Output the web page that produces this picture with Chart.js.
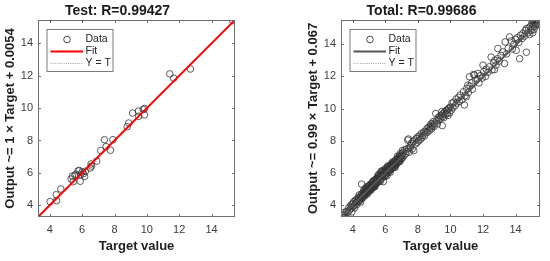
<!DOCTYPE html>
<html><head><meta charset="utf-8">
<script src="https://cdn.jsdelivr.net/npm/chart.js@4/dist/chart.umd.min.js"></script>
<style>
html,body{margin:0;padding:0;background:#fff;}
#wrap{width:550px;height:261px;position:relative;overflow:hidden;}
canvas{position:absolute;top:0;}
</style></head><body>
<div id="wrap">
<canvas id="c1" width="275" height="261" style="left:0;width:275px;height:261px"></canvas>
<canvas id="c2" width="275" height="261" style="left:275px;width:275px;height:261px"></canvas>
</div>
<script>
// ---- data ----
const testTarget = [4.02,4.40,4.42,4.68,5.32,5.40,5.45,5.55,5.62,5.75,
  5.82,5.90,5.88,6.00,6.08,6.15,6.20,6.50,6.55,6.58,
  6.90,7.15,7.38,7.48,7.75,7.90,8.78,8.88,9.12,9.48,
  9.50,9.78,9.85,9.86,11.42,11.66,12.70,15.30];
const testOutput = [4.22,4.65,4.28,5.00,5.62,5.80,5.45,5.85,5.92,6.12,
  6.15,5.88,5.48,6.05,5.95,5.78,6.10,6.30,6.55,6.42,
  6.72,7.38,8.05,7.62,7.40,8.05,8.85,9.08,9.70,9.82,
  9.50,9.92,9.58,9.98,12.12,11.85,12.42,15.42];

const totalTarget = [
  3.35,3.40,3.45,3.50,3.55,3.60,3.70,3.75,3.80,3.85,3.90,3.92,3.95,4.00,4.02,4.05,4.10,4.12,4.15,4.20,4.22,4.25,4.30,4.32,4.35,4.38,4.40,4.42,4.45,4.48,
  4.50,4.52,4.55,4.55,4.58,4.60,4.62,4.65,4.68,4.70,
  4.72,4.75,4.78,4.80,4.82,4.85,4.88,4.90,4.92,4.95,
  4.98,5.00,5.02,5.05,5.08,5.10,5.12,5.15,5.18,5.20,
  5.22,5.25,5.28,5.30,5.32,5.35,5.38,5.40,5.42,5.45,
  5.48,5.50,4.60,4.75,4.85,4.95,5.05,5.15,5.25,5.35,
  4.65,4.90,5.00,5.10,5.20,5.30,5.40,5.45,4.70,4.80,
  5.52,5.55,5.58,5.60,5.62,5.65,5.68,5.70,5.72,5.75,
  5.78,5.80,5.82,5.85,5.88,5.90,5.92,5.95,5.98,6.00,
  6.02,6.05,6.08,6.10,6.12,6.15,6.18,6.20,6.22,6.25,
  6.28,6.30,6.32,6.35,6.38,6.40,6.42,6.45,6.48,6.50,
  6.52,6.55,6.58,6.60,6.62,6.65,6.68,6.70,6.72,6.75,
  6.78,6.80,6.82,6.85,6.88,6.90,6.92,6.95,6.98,7.00,
  5.60,5.70,5.85,6.00,6.15,6.30,6.45,6.60,6.75,6.90,
  5.55,5.65,5.75,5.95,6.05,6.25,6.35,6.55,6.65,6.85,
  7.02,7.05,7.08,7.10,7.15,7.20,7.25,7.30,7.35,7.38,
  7.42,7.45,7.48,7.52,7.55,7.60,7.65,7.70,7.75,7.80,
  7.85,7.90,7.95,8.00,8.05,8.10,8.15,8.20,8.25,8.30,
  8.35,8.40,8.45,
  8.50,8.55,8.60,8.65,8.70,8.75,8.78,8.80,8.85,8.88,
  8.90,8.95,9.00,9.05,9.10,9.15,9.20,9.25,9.30,9.35,
  9.40,9.45,9.48,9.50,9.52,9.55,9.60,9.65,9.70,9.75,
  9.78,9.80,9.85,9.88,9.92,9.95,
  10.00,10.05,10.10,10.15,10.20,10.30,10.35,10.40,10.50,10.55,
  10.60,10.70,10.80,10.86,10.90,10.97,11.00,11.07,11.10,11.17,
  11.20,11.30,11.35,11.42,11.48,11.55,11.66,11.68,11.75,11.85,
  11.95,12.00,
  12.05,12.15,12.20,12.30,12.40,12.50,12.55,12.65,12.70,12.72,
  12.80,12.90,12.91,13.00,13.10,13.22,13.32,13.36,13.45,13.55,
  13.63,13.73,13.80,13.90,14.00,
  14.04,14.10,14.20,14.25,14.30,14.40,14.45,14.55,14.60,14.66,
  14.66,14.75,14.80,14.85,14.90,14.95,15.00,15.02,15.05,15.06,
  15.10,15.12,15.15,15.20,15.22,15.25,15.30,15.35,15.40,15.45,
  15.05];
const totalOutput = [
  3.40,3.25,3.55,3.45,3.30,3.62,3.55,3.85,3.70,3.95,3.80,4.05,3.60,4.10,3.92,4.22,4.00,3.85,4.30,4.15,4.35,4.05,4.40,4.22,4.50,4.30,4.65,4.28,4.45,4.20,
  4.60,4.40,5.32,4.70,4.50,4.75,4.55,4.85,4.62,5.00,
  4.68,4.90,4.72,5.05,4.80,4.95,4.70,5.10,4.85,5.00,
  5.20,4.90,5.05,5.30,5.00,5.15,4.95,5.35,5.10,5.25,
  5.45,5.10,5.30,5.55,5.20,5.40,5.25,5.60,5.35,5.50,
  5.70,5.40,4.45,4.60,5.15,4.80,5.10,5.05,5.50,5.15,
  4.70,4.95,5.18,4.98,5.40,5.28,5.30,5.62,4.80,4.85,
  5.60,5.85,5.45,5.75,5.92,5.55,5.80,6.00,5.65,6.12,
  5.85,5.70,6.15,5.95,5.48,6.05,5.80,6.20,5.90,6.05,
  6.30,5.95,6.15,5.85,6.35,6.05,6.25,6.40,6.10,6.30,
  6.45,6.20,6.50,6.25,6.40,6.60,6.30,6.55,6.35,6.65,
  6.45,6.70,6.42,6.55,6.80,6.50,6.72,6.60,6.90,6.65,
  6.85,6.70,7.00,6.75,6.95,6.72,7.10,6.85,7.05,6.90,
  5.90,5.50,6.10,5.80,6.45,6.05,6.70,6.35,7.05,7.20,
  5.68,5.78,5.82,5.98,6.18,6.15,6.48,6.58,6.62,6.90,
  7.20,7.40,7.00,7.30,7.10,7.45,7.20,7.50,7.35,8.05,
  8.12,7.55,7.30,7.70,7.60,7.85,7.50,7.95,7.40,8.05,
  7.80,8.15,7.90,8.25,8.00,8.30,8.10,8.45,8.20,8.35,
  8.55,8.30,8.60,
  8.50,8.75,8.55,8.85,8.65,8.90,8.80,9.05,8.75,9.08,
  8.95,9.20,8.90,9.10,9.70,9.25,9.05,9.45,9.30,9.55,
  9.40,9.60,9.82,8.95,9.50,9.70,9.45,9.80,9.65,9.90,
  9.92,9.70,9.58,9.98,10.05,9.75,
  10.10,9.90,10.35,10.05,10.40,10.20,10.60,10.35,10.70,10.45,
  10.85,10.55,11.05,10.23,10.80,10.74,11.25,11.46,11.00,11.98,
  11.40,11.60,11.20,12.12,12.08,11.75,11.85,12.18,11.60,12.05,
  11.90,12.70,
  12.30,12.00,12.45,12.25,12.60,13.20,12.40,12.85,12.42,13.00,
  12.70,13.10,13.73,12.95,13.30,13.52,12.80,14.14,13.40,13.75,
  14.45,14.20,13.70,14.00,14.30,
  13.62,14.40,14.10,13.10,14.55,14.35,14.66,14.50,14.85,13.50,
  14.96,14.70,15.00,14.60,15.10,14.85,15.30,15.00,15.45,15.52,
  15.20,14.90,15.35,15.10,15.45,15.25,15.42,15.30,15.50,15.20,
  14.70];

const tickValues = [4, 6, 8, 10, 12, 14];
const testRange = [3.27, 15.45];
const totalRange = [3.28, 15.5];
const testFit = { slope: 1, intercept: 0.0054 };
const totalFit = { slope: 0.99, intercept: 0.067 };
const testTitle = 'Test: R=0.99427';
const totalTitle = 'Total: R=0.99686';
const testYLabel = 'Output ~= 1 × Target + 0.0054';
const totalYLabel = 'Output ~= 0.99 × Target + 0.067';
const xLabel = 'Target value';
const legendLabels = ['Data', 'Fit', 'Y = T'];

// ---- rendering ----
const FONT = "'Liberation Sans', Arial, Helvetica, sans-serif";

const boxPlugin = {
  id: 'matlabBox',
  afterDatasetsDraw(chart, args, opts) {
    const { ctx, chartArea: a, scales: { x, y } } = chart;
    ctx.save();
    ctx.strokeStyle = '#707070';
    ctx.lineWidth = 1;
    const L = Math.round(a.left) + 0.5, T = Math.round(a.top) + 0.5;
    const R = Math.round(a.right) - 0.5, B = Math.round(a.bottom) - 0.5;
    ctx.strokeRect(L, T, R - L, B - T);
    const tl = 2.5;
    ctx.beginPath();
    x.ticks.forEach(t => {
      const p = Math.round(x.getPixelForValue(t.value)) + 0.5;
      ctx.moveTo(p, B); ctx.lineTo(p, B - tl);
      ctx.moveTo(p, T); ctx.lineTo(p, T + tl);
    });
    y.ticks.forEach(t => {
      const p = Math.round(y.getPixelForValue(t.value)) + 0.5;
      ctx.moveTo(L, p); ctx.lineTo(L + tl, p);
      ctx.moveTo(R, p); ctx.lineTo(R - tl, p);
    });
    ctx.stroke();
    // legend
    const lx = L + 8.5, ly = T + 9, lw = 66, lh = 42;
    ctx.fillStyle = '#fff';
    ctx.fillRect(lx, ly, lw, lh);
    ctx.strokeStyle = '#7a7a7a';
    ctx.strokeRect(lx, ly, lw, lh);
    const rows = [ly + 10, ly + 22, ly + 34];
    ctx.strokeStyle = '#333';
    ctx.lineWidth = 0.9;
    ctx.beginPath();
    ctx.arc(lx + 20, rows[0], 3.3, 0, Math.PI * 2);
    ctx.stroke();
    ctx.strokeStyle = opts.fitColor;
    ctx.lineWidth = 2;
    ctx.beginPath();
    ctx.moveTo(lx + 3.5, rows[1]); ctx.lineTo(lx + 36, rows[1]);
    ctx.stroke();
    ctx.strokeStyle = '#8a8a8a';
    ctx.lineWidth = 0.8;
    ctx.setLineDash([1, 1.2]);
    ctx.beginPath();
    ctx.moveTo(lx + 3.5, rows[2]); ctx.lineTo(lx + 36, rows[2]);
    ctx.stroke();
    ctx.setLineDash([]);
    ctx.fillStyle = '#262626';
    ctx.font = '10.5px ' + FONT;
    ctx.textBaseline = 'middle';
    ctx.textAlign = 'left';
    legendLabels.forEach((s, i) => ctx.fillText(s, lx + 38.5, rows[i]));
    ctx.restore();
  }
};

function makeChart(id, target, output, fit, range, title, yLabel, fitColor, padL, padR) {
  const pts = target.map((t, i) => ({ x: t, y: output[i] }));
  const fitPts = range.map(v => ({ x: v, y: fit.slope * v + fit.intercept }));
  const idPts = range.map(v => ({ x: v, y: v }));
  const axisCommon = {
    type: 'linear', min: range[0], max: range[1],
    grid: { display: false, drawTicks: false },
    border: { display: false },
    afterBuildTicks: s => { s.ticks = tickValues.map(v => ({ value: v })); },
  };
  return new Chart(document.getElementById(id), {
    type: 'scatter',
    data: {
      datasets: [
        { label: 'Fit', data: fitPts, showLine: true, borderColor: fitColor, borderWidth: 2,
          pointRadius: 0, fill: false, order: 0 },
        { label: 'Y = T', data: idPts, showLine: true, borderColor: '#8a8a8a', borderWidth: 0.8,
          borderDash: [1, 1.2], pointRadius: 0, fill: false, order: 1 },
        { label: 'Data', data: pts, showLine: false, pointStyle: 'circle', pointRadius: 3.3,
          pointBorderWidth: 0.8, pointBorderColor: '#333', pointBackgroundColor: 'rgba(0,0,0,0)',
          borderColor: '#333', backgroundColor: 'rgba(0,0,0,0)', order: 2 }
      ]
    },
    options: {
      responsive: false, animation: false, devicePixelRatio: 1,
      layout: { padding: { left: padL, right: padR, top: 0, bottom: 0 } },
      plugins: {
        legend: { display: false },
        tooltip: { enabled: false },
        title: { display: true, text: title, color: '#1a1a1a',
          font: { family: FONT, size: 14, weight: 'bold', lineHeight: 1.2 },
          padding: { top: 3, bottom: 0.2 } },
        matlabBox: { fitColor }
      },
      scales: {
        x: Object.assign({}, axisCommon, {
          position: 'bottom',
          afterFit: s => { s.height = 44; },
          ticks: { color: '#3c3c3c', font: { family: FONT, size: 11 }, padding: 6,
            autoSkip: false, maxRotation: 0 },
          title: { display: true, text: xLabel, color: '#1f1f1f',
            font: { family: FONT, size: 13, weight: 'bold', lineHeight: 1.2 },
            padding: { top: 0, bottom: 7 } }
        }),
        y: Object.assign({}, axisCommon, {
          position: 'left',
          afterFit: s => { s.width = 38; },
          ticks: { color: '#3c3c3c', font: { family: FONT, size: 11 }, padding: 5, autoSkip: false },
          title: { display: true, text: yLabel, color: '#1f1f1f',
            font: { family: FONT, size: 13, weight: 'bold', lineHeight: 1.2 },
            padding: { top: 3, bottom: 0 } }
        })
      }
    },
    plugins: [boxPlugin]
  });
}

makeChart('c1', testTarget, testOutput, testFit, testRange, testTitle, testYLabel, '#ff0000', 0, 40);
makeChart('c2', totalTarget, totalOutput, totalFit, totalRange, totalTitle, totalYLabel, '#555555', 28, 10);
</script>
</body></html>
